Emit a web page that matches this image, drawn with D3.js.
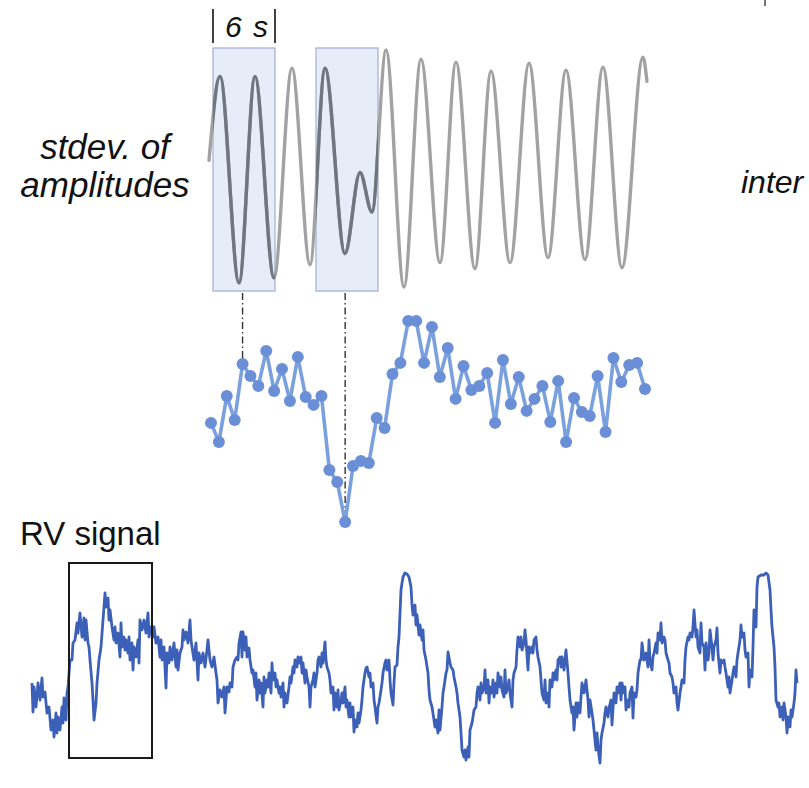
<!DOCTYPE html>
<html>
<head>
<meta charset="utf-8">
<script src="https://cdn.jsdelivr.net/npm/d3@7"></script>
<style>
  html, body { margin: 0; padding: 0; background: #fff; }
  svg { display: block; }
  text { font-family: "Liberation Sans", Arial, Helvetica, sans-serif; fill: #111; }
</style>
</head>
<body>
<svg id="chart" width="809" height="788"></svg>
<script>
// ---------- DATA ----------
// Top: respiratory waveform, extrema (time in s, normalised amplitude)
const waveTime = [0, 1.05, 2.86, 4.38, 6.19, 7.90, 9.62, 11.05, 12.95, 14.38, 15.52, 16.86, 18.57, 20.19, 22.0, 23.52, 25.33, 26.86, 28.67, 30.48, 32.29, 34.0, 35.81, 37.52, 39.33, 41.33, 41.71];
const waveAmp  = [0.09, 0.92, -1.12, 0.92, -1.07, 1.00, -0.94, 1.00, -0.83, -0.03, -0.42, 1.18, -1.16, 1.09, -0.92, 1.06, -0.98, 0.97, -0.92, 1.05, -0.87, 0.98, -0.89, 1.01, -0.97, 1.11, 0.87];

// 6-second windows (start in s)
const windowStarts = [0.38, 10.19];
const windowLength = 6;

// Middle: stdev of amplitudes per window
const stdevValues = [0.488, 0.408, 0.600, 0.500, 0.733, 0.683, 0.642, 0.788, 0.621, 0.713,
  0.579, 0.763, 0.596, 0.563, 0.600, 0.292, 0.242, 0.075, 0.308, 0.329,
  0.321, 0.508, 0.467, 0.692, 0.738, 0.913, 0.913, 0.738, 0.888, 0.679,
  0.800, 0.588, 0.725, 0.625, 0.642, 0.696, 0.488, 0.750, 0.567, 0.679,
  0.538, 0.588, 0.642, 0.492, 0.663, 0.408, 0.592, 0.533, 0.517, 0.683,
  0.450, 0.758, 0.658, 0.729, 0.738, 0.629];
const linkedWindows = [4, 17]; // indices of stdev points linked to the two windows

// Bottom: RV signal samples [time, value]
const rvSamples = [
 [0,77],[1,48],[2,73],[4,53],[6,77],[8,60],[10,82],[11,63],[13,68],[15,47],[17,53],[19,30],[21,40],[22,23],[24,47],[25,27],[26,43],[28,30],[30,53],[31,37],[32,62],[34,40],[35,67],[36,73],[38,100],[40,100],[41,117],[43,120],[45,137],[46,127],[48,147],[50,123],[52,142],[53,120],[54,140],[56,117],[57,113],[58,100],[60,77],[61,60],[62,40],[64,57],[65,77],[67,100],[69,113],[71,140],[73,167],[74,153],[76,162],[77,140],[78,150],[80,133],[82,120],[83,133],[84,117],[86,127],[88,103],[89,137],[90,113],[92,123],[93,110],[94,120],[96,107],[97,123],[98,100],[100,117],[101,90],[102,113],[104,103],[106,120],[107,97],[108,140],[110,130],[112,140],[114,127],[116,147],[117,123],[119,133],[121,123],[122,133],[124,117],[126,123],[128,103],[129,120],[130,100],[132,113],[134,72],[135,107],[137,97],[138,113],[140,100],[142,117],[144,93],[145,110],[146,90],[148,107],[150,113],[151,130],[152,120],[154,128],[156,117],[158,140],[159,120],[160,113],[162,100],[164,117],[166,80],[167,107],[169,97],[171,107],[173,93],[175,110],[176,120],[178,100],[180,93],[182,103],[184,87],[185,80],[186,57],[188,70],[190,63],[192,73],
 [193,47],[195,73],[197,68],[198,77],[200,73],[201,93],[203,100],[205,103],[206,100],[207,117],[209,128],[210,103],[211,128],[213,110],[214,123],[215,103],[217,112],[218,100],[220,87],[221,90],[223,73],[224,87],[225,60],[227,80],[228,67],[229,77],[231,53],[232,83],[233,67],[235,80],[236,73],[237,87],[239,67],[240,97],[241,80],[243,87],[244,73],[245,80],[247,67],[248,73],[249,63],[251,77],[252,53],[253,67],[255,57],[257,73],[258,83],[259,77],[261,93],[262,87],[263,100],[265,93],[266,103],[267,97],[269,103],[270,87],[271,97],[273,77],[274,90],[275,83],[277,73],[278,53],[279,73],[281,80],[282,87],[283,73],[285,87],[286,100],[287,103],[289,93],[290,107],[291,97],[293,118],[294,100],[295,93],[297,87],[298,80],[299,67],[301,73],[302,50],[303,67],[305,53],[306,70],[307,50],[309,60],[310,67],[311,57],[313,73],[314,53],[315,60],[317,43],[318,57],[319,43],[321,53],[322,28],[323,40],[325,33],[326,47],[327,37],[329,50],[330,60],[331,73],[333,87],[334,92],[335,93],[337,83],[338,87],[339,73],[341,77],[342,60],[343,53],[345,37],[346,53],[347,57],[349,70],[350,77],[351,87],[353,97],[354,100],[355,90],[357,100],[358,80],[359,67],[361,55],[362,77],[363,93],[365,95],[366,113],[367,123],[369,170],[370,177],[371,183],[373,187],[375,186],[377,183],[379,173],[380,155],[381,145],[383,155],[384,135],[385,145],[387,125],[388,135],[390,120],[391,130],[392,110],[394,100],
 [396,87],[397,70],[398,60],[400,53],[402,40],[403,33],[404,40],[406,27],[407,50],[408,30],[410,53],[411,67],[412,73],[414,87],[415,90],[416,108],[418,97],[419,93],[421,90],[422,83],[424,73],[425,67],[426,57],[428,43],[429,27],[430,10],[432,3],[433,10],[434,0],[436,13],[437,3],[438,30],[440,37],[441,43],[442,50],[444,53],[445,67],[446,73],[448,60],[449,77],[450,67],[452,73],[453,90],[454,67],[456,80],[457,57],[458,73],[460,67],[461,80],[462,63],[464,77],[465,67],[466,87],[468,73],[469,83],[470,70],[472,63],[473,90],[474,67],[476,73],[477,80],[478,67],[480,53],[481,80],[482,87],[484,93],[485,110],[486,123],[488,113],[489,123],[490,110],[492,117],[493,130],[494,120],[496,90],[497,113],[498,107],[500,113],[501,107],[502,120],[504,123],[505,110],[506,103],[508,93],[509,80],[510,67],[512,60],[513,80],[514,57],[516,67],[517,53],[518,80],[520,73],[521,87],[522,80],[524,90],[525,80],[526,100],[528,103],[529,93],[530,103],[532,90],[533,100],[534,110],[536,87],[537,73],[538,60],[540,47],[541,53],[542,30],[544,57],[545,43],[546,57],[548,47],[549,63],[550,77],[552,67],[553,73],[554,80],[556,60],[557,43],[558,60],[560,47],[561,40],[562,30],[564,10],[565,27],[566,13],[568,-3],[569,20],[570,27],[572,37],[573,47],[574,53],[576,43],[577,52],[579,60],[580,35],[582,67],
 [584,57],[585,73],[586,67],[588,77],[589,60],[590,77],[592,67],[593,73],[594,50],[596,60],[597,53],[598,67],[600,73],[601,42],[602,67],[604,63],[605,70],[606,87],[608,100],[609,100],[610,117],[612,100],[613,103],[614,107],[616,93],[617,120],[618,100],[620,90],[621,103],[622,107],[624,117],[625,107],[626,127],[628,120],[629,137],[630,117],[632,123],[633,120],[634,107],[636,100],[637,97],[638,87],[640,83],[641,77],[642,67],[644,73],[645,57],[646,50],[648,67],[649,73],[650,80],[652,77],[653,100],[654,113],[656,123],[657,120],[658,127],[660,123],[661,133],[662,150],[664,123],[665,130],[666,113],[668,107],[669,137],[670,117],[672,113],[673,90],[674,117],[676,100],[677,107],[678,130],[680,113],[681,100],[682,113],[684,120],[685,132],[686,107],[688,87],[689,100],[690,97],[692,100],[693,93],[694,87],[696,73],[697,83],[698,67],[700,80],[701,87],[702,93],[704,83],[705,100],[706,107],[708,120],[709,135],[710,123],[712,127],[713,110],[714,103],[716,107],[717,73],[718,90],[720,83],[721,113],[722,150],[724,133],[725,173],[726,183],[729,185],[732,185],[734,187],[736,185],[738,170],[739,150],[740,133],[742,113],[743,93],[744,60],[746,53],[747,57],[748,43],[750,53],[751,40],[752,57],[754,43],[755,27],[756,43],[758,33],[759,50],[760,43],[762,57],[763,67],[764,90],[765,77]
];
const rvWindow = [37, 120]; // time span of the highlighted RV window

// Labels
const labelWindow = "6 s";
const labelStdev = ["stdev. of", "amplitudes"];
const labelInter = "inter";
const labelRV = "RV signal";

// ---------- DRAWING ----------
const svg = d3.select("#chart");

// Top panel scales
const xWave = d3.scaleLinear().domain([0, 42]).range([209, 650]);
const yWave = d3.scaleLinear().domain([-1.2, 1.2]).range([291, 48]);
const wavePts = waveTime.map((t, i) => [t, waveAmp[i]]);
const waveLine = d3.line().x(d => xWave(d[0])).y(d => yWave(d[1])).curve(d3.curveMonotoneX);

// Window boxes
const boxes = windowStarts.map(s => ({x0: xWave(s), x1: xWave(s + windowLength) - 1, y0: yWave(1.2), y1: yWave(-1.2)}));
svg.selectAll("rect.win").data(boxes).join("rect")
  .attr("class", "win")
  .attr("x", d => d.x0).attr("y", d => d.y0)
  .attr("width", d => d.x1 - d.x0).attr("height", d => d.y1 - d.y0)
  .attr("fill", "#e6ecf8").attr("stroke", "#a9b3d2").attr("stroke-width", 1.3);

// Clip for darker line inside boxes
const defs = svg.append("defs");
const clip = defs.append("clipPath").attr("id", "boxclip");
clip.selectAll("rect").data(boxes).join("rect")
  .attr("x", d => d.x0).attr("y", d => d.y0)
  .attr("width", d => d.x1 - d.x0).attr("height", d => d.y1 - d.y0);

svg.append("path").datum(wavePts)
  .attr("d", waveLine).attr("fill", "none")
  .attr("stroke", "#a2a2a2").attr("stroke-width", 3.4).attr("stroke-linecap", "round");
svg.append("path").datum(wavePts)
  .attr("d", waveLine).attr("fill", "none").attr("clip-path", "url(#boxclip)")
  .attr("stroke", "#707680").attr("stroke-width", 3.4);

// "6 s" marker
const b0 = boxes[0];
svg.selectAll("line.bar").data([b0.x0, b0.x1]).join("line")
  .attr("class", "bar")
  .attr("x1", d => d).attr("x2", d => d).attr("y1", 9).attr("y2", 43)
  .attr("stroke", "#111").attr("stroke-width", 1.6);
svg.append("text").attr("x", 225).attr("y", 37)
  .style("font-size", "30px").style("font-style", "italic").style("letter-spacing", "1.5px")
  .text(labelWindow);

// Left label
svg.selectAll("text.stdev").data(labelStdev).join("text")
  .attr("class", "stdev")
  .attr("x", 105).attr("y", (d, i) => 159 + i * 38)
  .attr("text-anchor", "middle")
  .style("font-size", "35px").style("font-style", "italic")
  .text(d => d);

// Right clipped label and tick
svg.append("text").attr("x", 741).attr("y", 193)
  .style("font-size", "32px").style("font-style", "italic").text(labelInter);
svg.append("line").attr("x1", 765).attr("x2", 765).attr("y1", 0).attr("y2", 6)
  .attr("stroke", "#777").attr("stroke-width", 2);

// Middle panel
const xStd = d3.scaleLinear().domain([0, stdevValues.length - 1]).range([211, 645]);
const yStd = d3.scaleLinear().domain([0, 1]).range([540, 300]);

// dash-dot connectors
linkedWindows.forEach((idx, k) => {
  svg.append("line")
    .attr("x1", xStd(idx)).attr("x2", xStd(idx))
    .attr("y1", boxes[k].y1 + 2).attr("y2", yStd(stdevValues[idx]))
    .attr("stroke", "#333").attr("stroke-width", 1.4)
    .attr("stroke-dasharray", "7,3,1.5,3");
});

svg.append("path").datum(stdevValues)
  .attr("d", d3.line().x((d, i) => xStd(i)).y(d => yStd(d)))
  .attr("fill", "none").attr("stroke", "#7ba0de").attr("stroke-width", 3.6)
  .attr("stroke-linejoin", "round");
svg.selectAll("circle.pt").data(stdevValues).join("circle")
  .attr("class", "pt")
  .attr("cx", (d, i) => xStd(i)).attr("cy", d => yStd(d)).attr("r", 6)
  .attr("fill", "#6a8fd6");

// Bottom panel: RV signal
const xRV = d3.scaleLinear().domain([0, 766]).range([32, 798]);
const yRV = d3.scaleLinear().domain([0, 190]).range([760, 570]);

svg.append("text").attr("x", 20).attr("y", 545)
  .style("font-size", "33px").text(labelRV);

svg.append("path").datum(rvSamples)
  .attr("d", d3.line().x(d => xRV(d[0])).y(d => yRV(d[1])))
  .attr("fill", "none").attr("stroke", "#3c60b7").attr("stroke-width", 2.8)
  .attr("stroke-linejoin", "round");

svg.append("rect")
  .attr("x", xRV(rvWindow[0])).attr("y", 563)
  .attr("width", xRV(rvWindow[1]) - xRV(rvWindow[0])).attr("height", 195)
  .attr("fill", "none").attr("stroke", "#1a1a1a").attr("stroke-width", 2);
</script>
</body>
</html>
